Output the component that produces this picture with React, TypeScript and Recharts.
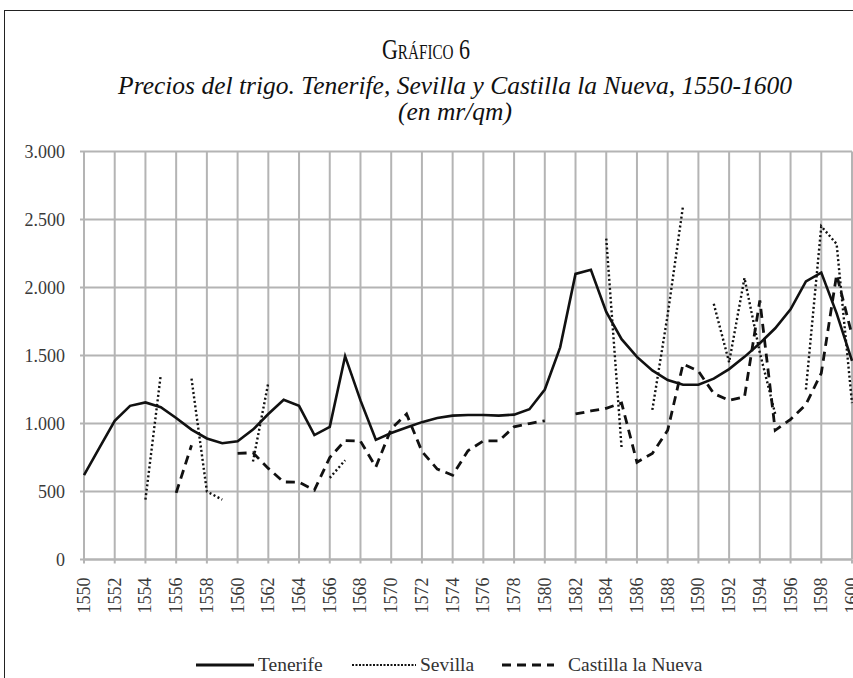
import React from "react";
import { LineChart, Line, XAxis, YAxis, CartesianGrid } from "recharts";

const years = [
  1550, 1551, 1552, 1553, 1554, 1555, 1556, 1557, 1558, 1559,
  1560, 1561, 1562, 1563, 1564, 1565, 1566, 1567, 1568, 1569,
  1570, 1571, 1572, 1573, 1574, 1575, 1576, 1577, 1578, 1579,
  1580, 1581, 1582, 1583, 1584, 1585, 1586, 1587, 1588, 1589,
  1590, 1591, 1592, 1593, 1594, 1595, 1596, 1597, 1598, 1599, 1600,
];

const tenerife = [
  620, 820, 1020, 1130, 1155, 1120, 1040, 955, 890, 855,
  870, 955, 1070, 1175, 1130, 915, 975, 1495, 1170, 880,
  930, 970, 1010, 1040, 1058, 1063, 1063, 1058, 1065, 1105,
  1250, 1560, 2100, 2130, 1820, 1620, 1490, 1390, 1320, 1285,
  1285, 1330, 1400, 1490, 1590, 1700, 1840, 2045, 2110, 1810, 1460,
];

const sevilla = [
  null, null, null, null, 440, 1360, null, 1330, 500, 440,
  null, 720, 1300, null, null, null, 600, 730, null, null,
  null, null, null, null, null, null, null, null, null, null,
  null, null, null, null, 2360, 820, null, 1100, 1800, 2600,
  null, 1880, 1450, 2070, 1520, 1070, null, 1250, 2450, 2320, 1150,
];

const castilla = [
  null, null, null, null, null, null, 490, 840, null, null,
  780, 785, 670, 570, 568, 510, 750, 875, 870, 680,
  960, 1070, 795, 665, 620, 800, 872, 872, 975, 1000,
  1020, null, 1070, 1092, 1112, 1150, 715, 780, 950, 1437,
  1385, 1220, 1170, 1195, 1905, 950, 1030, 1140, 1370, 2095, 1650,
];

const xTicks = [
  1550, 1552, 1554, 1556, 1558, 1560, 1562, 1564, 1566, 1568,
  1570, 1572, 1574, 1576, 1578, 1580, 1582, 1584, 1586, 1588,
  1590, 1592, 1594, 1596, 1598, 1600,
];

const yTicks = [0, 500, 1000, 1500, 2000, 2500, 3000];
const yTickLabels = ["0", "500", "1.000", "1.500", "2.000", "2.500", "3.000"];

const seriesNames = ["Tenerife", "Sevilla", "Castilla la Nueva"];

const data = years.map((y, i) => ({
  year: y,
  tenerife: tenerife[i],
  sevilla: sevilla[i],
  castilla: castilla[i],
}));

const FONT = "'Liberation Serif', 'Times New Roman', serif";
const GRID = "#b4b4b4";

const XTick = (props: any) => {
  const { x, y, payload } = props;
  return (
    <text
      x={x}
      y={y}
      transform={`rotate(-90, ${x}, ${y})`}
      textAnchor="end"
      dominantBaseline="central"
      fontFamily={FONT}
      fontSize={18}
      fill="#3a3a3a"
    >
      {payload.value}
    </text>
  );
};

const YTick = (props: any) => {
  const { x, y, payload } = props;
  const idx = yTicks.indexOf(payload.value);
  return (
    <text
      x={x}
      y={y}
      textAnchor="end"
      dominantBaseline="central"
      fontFamily={FONT}
      fontSize={18}
      fill="#3a3a3a"
    >
      {idx >= 0 ? yTickLabels[idx] : payload.value}
    </text>
  );
};

const LegendItem = ({ dash, width, label, left, gap }: any) => (
  <div style={{ position: "absolute", left, top: 652, display: "flex", alignItems: "center" }}>
    <svg width={width} height={26} style={{ display: "block" }}>
      <line
        x1={0}
        y1={13}
        x2={width}
        y2={13}
        stroke="#111"
        strokeWidth={dash === "dot" ? 2.2 : 3}
        strokeDasharray={dash === "dot" ? "2 1.5" : dash === "dash" ? "9 6" : undefined}
      />
    </svg>
    <span style={{ fontFamily: FONT, fontSize: 19.5, color: "#333", marginLeft: gap, lineHeight: "26px" }}>{label}</span>
  </div>
);

export default function App() {
  return (
    <div style={{ position: "absolute", left: 0, top: 0, width: 853, height: 678, overflow: "hidden", background: "#fff" }}>
      <div style={{ position: "absolute", left: 4, top: 10, width: 920, height: 720, border: "1.5px solid #222" }} />
      <div style={{ position: "absolute", left: 0, width: 853, top: 33, textAlign: "center", fontFamily: FONT, fontSize: 29, fontVariant: "small-caps", color: "#111", lineHeight: "32px" }}>
        <span style={{ display: "inline-block", transform: "scaleX(0.76)" }}>Gráfico 6</span>
      </div>
      <div style={{ position: "absolute", left: 0, width: 910, top: 73, textAlign: "center", fontFamily: FONT, fontSize: 25.5, fontStyle: "italic", color: "#111", lineHeight: "26px" }}>
        Precios del trigo. Tenerife, Sevilla y Castilla la Nueva, 1550-1600
        <br />
        (en mr/qm)
      </div>
      <div style={{ position: "absolute", left: 0, top: 0 }}>
        <LineChart width={853} height={678} data={data} margin={{ top: 151.5, right: 1, left: 0, bottom: 58.5 }}>
          <CartesianGrid stroke={GRID} strokeWidth={2} />
          <XAxis
            dataKey="year"
            type="number"
            domain={[1550, 1600]}
            ticks={xTicks}
            interval={0}
            height={60}
            tickSize={4}
            tickMargin={14}
            tick={<XTick />}
            axisLine={{ stroke: GRID, strokeWidth: 2 }}
            tickLine={{ stroke: GRID, strokeWidth: 2 }}
          />
          <YAxis
            type="number"
            domain={[0, 3000]}
            ticks={yTicks}
            interval={0}
            width={84}
            tickSize={4}
            tickMargin={15}
            tick={<YTick />}
            axisLine={false}
            tickLine={{ stroke: GRID, strokeWidth: 2 }}
          />
          <Line dataKey="tenerife" name={seriesNames[0]} stroke="#111" strokeWidth={2.6} dot={false} isAnimationActive={false} connectNulls={false} />
          <Line dataKey="sevilla" name={seriesNames[1]} stroke="#111" strokeWidth={2.4} strokeDasharray="2 2.5" dot={false} isAnimationActive={false} connectNulls={false} />
          <Line dataKey="castilla" name={seriesNames[2]} stroke="#111" strokeWidth={2.8} strokeDasharray="9 6" dot={false} isAnimationActive={false} connectNulls={false} />
        </LineChart>
      </div>
      <LegendItem dash="solid" width={58} label={seriesNames[0]} left={196} gap={4} />
      <LegendItem dash="dot" width={64} label={seriesNames[1]} left={352} gap={4} />
      <LegendItem dash="dash" width={52} label={seriesNames[2]} left={502} gap={14} />
    </div>
  );
}
